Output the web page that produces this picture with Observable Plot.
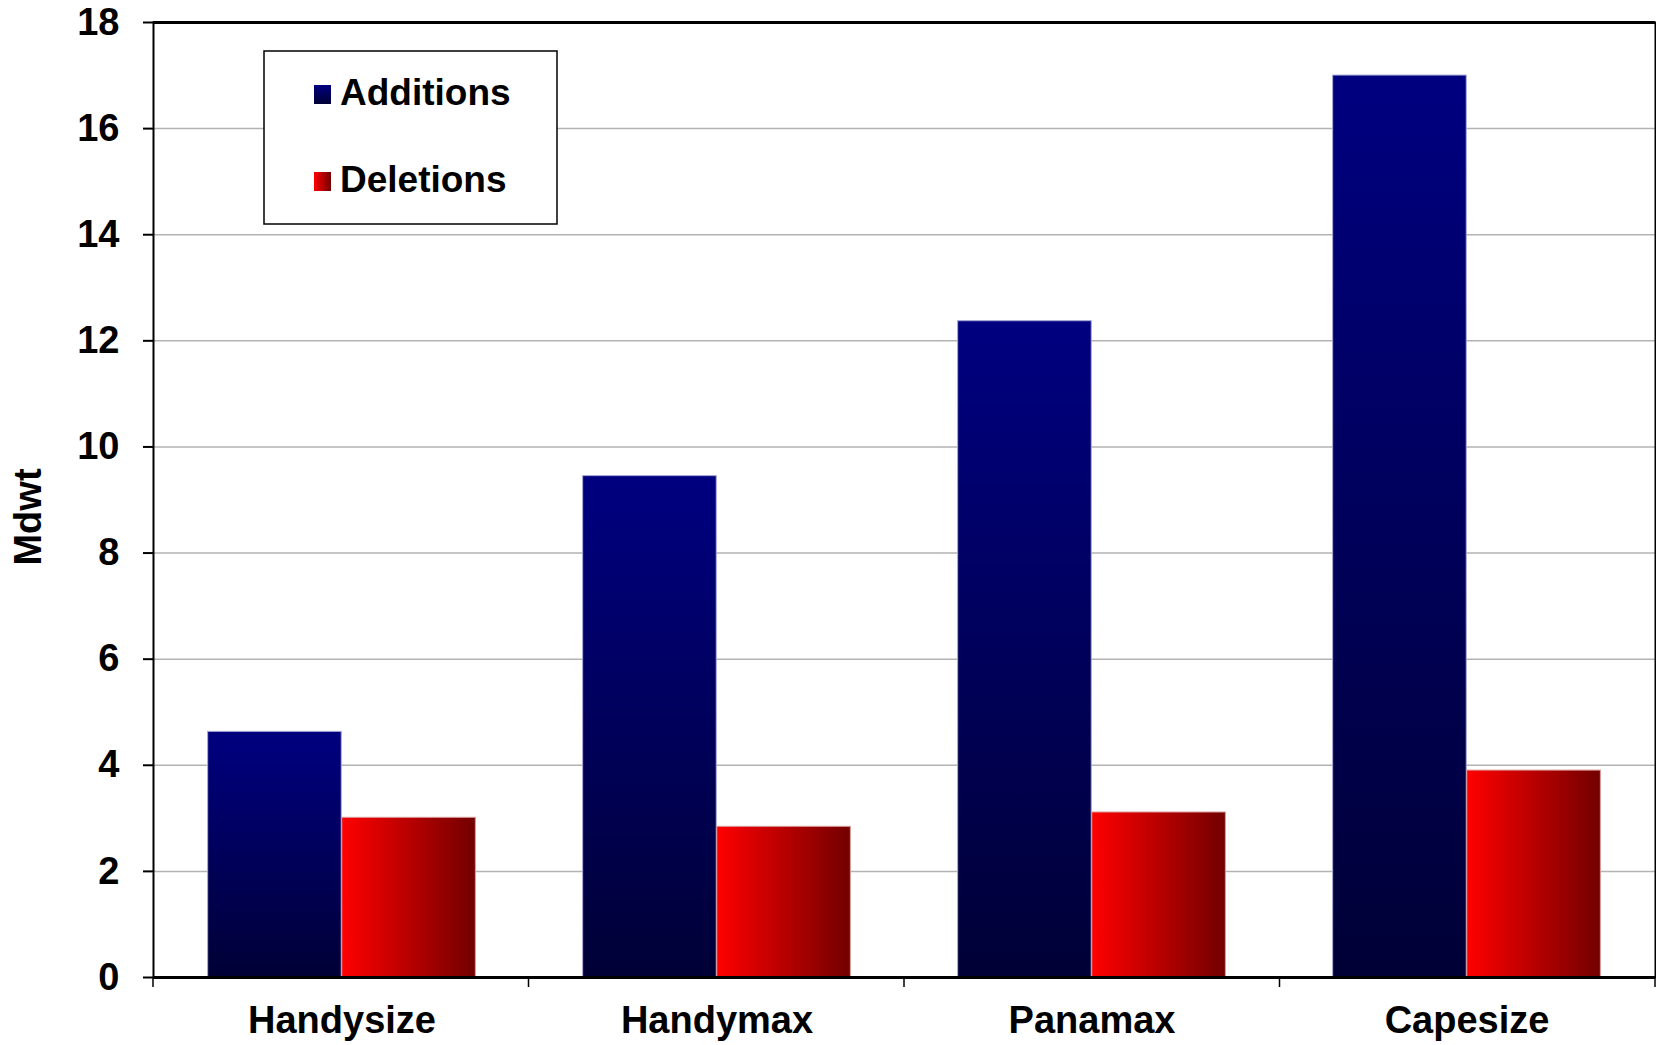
<!DOCTYPE html>
<html>
<head>
<meta charset="utf-8">
<script src="https://cdn.jsdelivr.net/npm/d3@7"></script>
<script src="https://cdn.jsdelivr.net/npm/@observablehq/plot@0.6"></script>
<style>
  html, body { margin: 0; padding: 0; background: #fff; }
  #chart svg { display: block; }
</style>
</head>
<body>
<div id="chart"></div>
<script>
// Fleet changes by bulk carrier size class (million dwt)
const categories = ["Handysize", "Handymax", "Panamax", "Capesize"];
const additions = [4.63, 9.45, 12.37, 17.0];
const deletions = [3.01, 2.84, 3.11, 3.90];
const seriesNames = ["Additions", "Deletions"];
const yTicks = [0, 2, 4, 6, 8, 10, 12, 14, 16, 18];
const yLabel = "Mdwt";

const rows = categories.flatMap((c, i) => [
  {category: c, series: seriesNames[0], value: additions[i]},
  {category: c, series: seriesNames[1], value: deletions[i]}
]);

const W = 1656, H = 1045;
const mL = 153, mR = 1, mT = 22, mB = 68;
const FONT = "'Liberation Sans', Arial, sans-serif";
// Clustered bars: two bars per category with a 40% bar-width gap on each side
const band = (W - mL - mR) / categories.length;
const barW = band / 2.8;
const outer = barW * 0.4;

const plot = Plot.plot({
  width: W,
  height: H,
  marginLeft: mL,
  marginRight: mR,
  marginTop: mT,
  marginBottom: mB,
  style: {
    fontFamily: FONT,
    fontSize: "38px",
    fontWeight: "bold",
    color: "#000",
    background: "#fff"
  },
  x: {domain: categories, padding: 0, label: null, tickSize: 0, tickPadding: 29},
  y: {domain: [0, 18], ticks: yTicks, label: null, tickSize: 10, tickPadding: 24},
  marks: [
    Plot.ruleY(yTicks.filter(d => d > 0 && d < 18), {stroke: "#b3b3b3", strokeWidth: 1.5}),
    Plot.barY(rows.filter(d => d.series === "Additions"), {
      x: "category", y: "value",
      fill: "url(#gradAdd)", stroke: "#a9a9d6", strokeWidth: 1,
      insetLeft: outer, insetRight: band / 2
    }),
    Plot.barY(rows.filter(d => d.series === "Deletions"), {
      x: "category", y: "value",
      fill: "url(#gradDel)", stroke: "#d99a9a", strokeWidth: 1,
      insetLeft: band / 2, insetRight: outer
    }),
    Plot.frame({stroke: "#000", strokeWidth: 2}),
    Plot.ruleY([0, 18], {stroke: "#000", strokeWidth: 3})
  ]
});

const svg = d3.select(plot);

// Gradient fills for the two series
const defs = svg.insert("defs", ":first-child");
const gA = defs.append("linearGradient").attr("id", "gradAdd")
  .attr("x1", 0).attr("y1", 0).attr("x2", 0).attr("y2", 1);
gA.append("stop").attr("offset", "0%").attr("stop-color", "#000080");
gA.append("stop").attr("offset", "100%").attr("stop-color", "#000036");
const gD = defs.append("linearGradient").attr("id", "gradDel")
  .attr("x1", 0).attr("y1", 0).attr("x2", 1).attr("y2", 0);
gD.append("stop").attr("offset", "0%").attr("stop-color", "#ff0000");
gD.append("stop").attr("offset", "100%").attr("stop-color", "#720000");

// Thicker y tick marks
svg.selectAll("[aria-label='y-axis'] path, [aria-label='y-axis tick'] path, [aria-label='y-axis'] line")
  .attr("stroke-width", 2);

// Category boundary tick marks below the x axis
const xs = plot.scale("x");
const bandScale = d3.scaleBand().domain(xs.domain).range(xs.range).padding(0);
const y0 = H - mB;
const bounds = xs.domain.map(c => bandScale(c));
bounds.push(bandScale(xs.domain[xs.domain.length - 1]) + bandScale.bandwidth());
const tg = svg.append("g");
bounds.forEach(b => {
  tg.append("line").attr("x1", b).attr("x2", b).attr("y1", y0).attr("y2", y0 + 10)
    .attr("stroke", "#000").attr("stroke-width", 1.5);
});

// Y axis title
svg.append("text")
  .attr("transform", `translate(28,${517}) rotate(-90)`)
  .attr("text-anchor", "middle")
  .attr("dominant-baseline", "central")
  .attr("font-family", FONT).attr("font-size", 38).attr("font-weight", "bold")
  .attr("fill", "#000")
  .text(yLabel);

// Legend
const lg = svg.append("g").attr("font-size", 37).attr("font-weight", "bold")
  .attr("font-family", FONT).attr("text-anchor", "start");
lg.append("rect").attr("x", 264).attr("y", 51).attr("width", 293).attr("height", 173)
  .attr("fill", "#fff").attr("stroke", "#000").attr("stroke-width", 1.5);
const entries = [
  {name: seriesNames[0], fill: "url(#gradAdd)", sy: 85, ty: 105},
  {name: seriesNames[1], fill: "url(#gradDel)", sy: 172, ty: 192}
];
entries.forEach(e => {
  lg.append("rect").attr("x", 314).attr("y", e.sy).attr("width", 17).attr("height", 19)
    .attr("fill", e.fill);
  lg.append("text").attr("x", 340).attr("y", e.ty).attr("fill", "#000").text(e.name);
});

document.getElementById("chart").appendChild(plot);
</script>
</body>
</html>
